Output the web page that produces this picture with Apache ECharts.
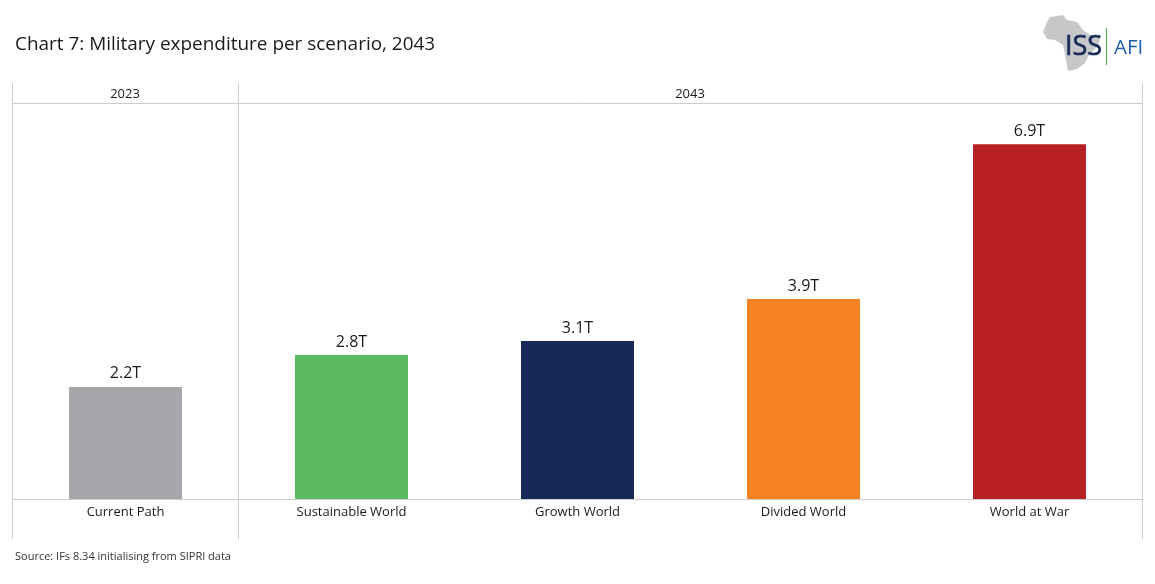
<!DOCTYPE html>
<html><head><meta charset="utf-8">
<style>html,body{margin:0;padding:0;background:#fff}#c{width:1155px;height:584px}</style>
<script src="https://cdn.jsdelivr.net/npm/echarts@6/dist/echarts.min.js"></script>
</head><body><div id="c"></div>
<script>
const categories = ['Current Path','Sustainable World','Growth World','Divided World','World at War'];
const values = [2.18,2.8,3.07,3.89,6.9];
const colors = ['#a7a6aa','#5cbb60','#182858','#f58220','#b72025'];
const panels = [{name:'2023',from:0,to:1},{name:'2043',from:1,to:5}];
const titleText = 'Chart 7: Military expenditure per scenario, 2043';
const sourceText = 'Source: IFs 8.34 initialising from SIPRI data';
const africa = [[43,32],[47,22],[50,17],[63,15],[67,20],[77,22],[83,30],[92,36],[101,36],[98,46],[91,53],[88,57],[85,63],[77,69],[68,71],[65,55],[63,45],[55,40],[47,39]];

const F = '"Open Sans", sans-serif', L = '#cccccc', INK = '#1a1a1a';
const gLeft = 12.5, gRight = 1142.5, gTop = 103, gBottom = 499, step = (gRight-gLeft)/categories.length;
const line = (x1,y1,x2,y2,c,w) => ({type:'line',silent:true,shape:{x1,y1,x2,y2},style:{stroke:c||L,lineWidth:w||1}});
const text = (x,y,t,size,fill,align,extra) => ({type:'text',silent:true,x,y,style:Object.assign({text:t,font:size+'px '+F,fill,textAlign:align||'left',textVerticalAlign:'middle'},extra||{})});

const graphic = [];
panels.forEach(p=>{
  graphic.push(line(gLeft+p.from*step,83,gLeft+p.from*step,539));
  graphic.push(text(gLeft+(p.from+p.to)/2*step-0.5,94,p.name,13,INK,'center'));
});
graphic.push(line(gRight,83,gRight,539));
graphic.push(line(gLeft,gTop+.5,gRight,gTop+.5));
graphic.push({type:'polygon',silent:true,x:1000,y:0,shape:{points:africa},style:{fill:'#c6c7c9'}});
graphic.push(text(1065,47,'ISS',27,'#182858','left',{stroke:'#182858',lineWidth:.6}));
graphic.push(line(1106.5,28,1106.5,65,'#5cab5e',1.2));
graphic.push(text(1114,48.5,'AFI',20.5,'#1f5fa8','left'));
graphic.push(text(15,45,titleText,18.95,INK,'left'));
graphic.push(text(15,556.5,sourceText,11,'#333','left'));

echarts.init(document.getElementById('c'),null,{renderer:'canvas'}).setOption({
  animation:false,
  grid:{left:gLeft,right:1155-gRight,top:gTop,bottom:584-gBottom,containLabel:false},
  xAxis:{type:'category',data:categories,
    axisLine:{lineStyle:{color:L,width:1}},axisTick:{show:false},
    axisLabel:{color:INK,fontFamily:F,fontSize:13,margin:7}},
  yAxis:{type:'value',min:0,max:7.7,show:false,splitLine:{show:false}},
  series:[{type:'bar',barWidth:'50%',
    data:values.map((v,i)=>({value:v,itemStyle:{color:colors[i]}})),
    label:{show:true,position:'top',distance:5,color:INK,fontFamily:F,fontSize:16,formatter:p=>p.value.toFixed(1)+'T'}}],
  graphic
});
</script></body></html>
